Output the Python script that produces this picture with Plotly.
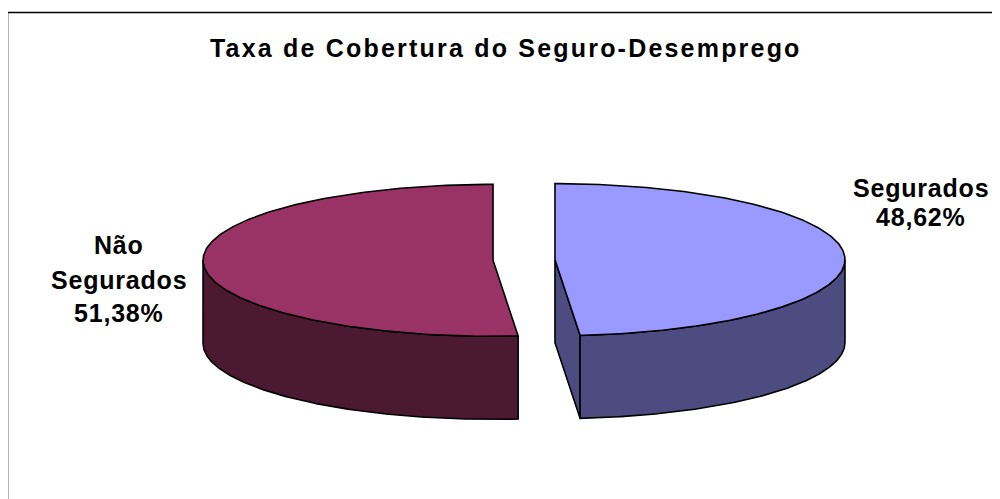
import numpy as np
import plotly.graph_objects as go

# ---- data ----
labels = ["Segurados", "Não Segurados"]
values = [48.62, 51.38]
top_colors = ["#9999FF", "#993366"]
side_colors = ["#4C4C80", "#4C1933"]
title_text = "Taxa de Cobertura do Seguro-Desemprego"

# ---- pie geometry (pixel space via axes) ----
CX, CY, RX, RY, DEPTH, EXPLODE = 524, 260, 290, 76, 83, 31
N = 240
OFF = 8  # page body margin compensation


def rim(cx, cy, th, dz=0.0):
    th = np.asarray(th, dtype=float)
    return cx + RX * np.sin(th), cy - RY * np.cos(th) + dz


def poly(fig, xs, ys, color):
    xs = list(xs) + [xs[0]]
    ys = list(ys) + [ys[0]]
    fig.add_trace(go.Scatter(x=xs, y=ys, mode="lines", fill="toself",
                             fillcolor=color,
                             line=dict(color="black", width=1.6),
                             hoverinfo="skip", showlegend=False))


fig = go.Figure()
total = float(sum(values))
start = 0.0
for lab, v, tc, sc in zip(labels, values, top_colors, side_colors):
    a = start
    b = start + 2 * np.pi * v / total
    start = b
    mid = (a + b) / 2
    cx = CX + EXPLODE * np.sin(mid)
    cy = CY - EXPLODE * np.cos(mid) * RY / RX

    # cut faces
    for th, sign in ((a, -1), (b, 1)):
        if sign * np.sin(th) > 1e-6:
            x1, y1 = rim(cx, cy, th)
            poly(fig, [cx, x1, x1, cx], [cy, y1, y1 + DEPTH, cy + DEPTH], sc)

    # outer wall (front half only)
    lo, hi = max(a, np.pi / 2), min(b, 3 * np.pi / 2)
    if lo < hi:
        t = np.linspace(lo, hi, N)
        xt, yt = rim(cx, cy, t)
        xb, yb = rim(cx, cy, t[::-1], DEPTH)
        poly(fig, np.concatenate([xt, xb]), np.concatenate([yt, yb]), sc)

    # top face
    t = np.linspace(a, b, N)
    xt, yt = rim(cx, cy, t)
    poly(fig, np.concatenate([[cx], xt]), np.concatenate([[cy], yt]), tc)


def spaced(line, ls):
    return f"<span style='letter-spacing:{ls}px'><b>{line}</b></span>"


def fmt(v):
    return f"{v:.2f}".replace(".", ",") + "%"


label_lines = [["Segurados", fmt(values[0])],
               ["Não", "Segurados", fmt(values[1])]]
label_x = [921, 119]
label_y = [[187.5, 217], [245, 279.5, 312.5]]
for lines, lx, ys in zip(label_lines, label_x, label_y):
    for s, ly in zip(lines, ys):
        fig.add_annotation(x=lx, y=ly, xref="x", yref="y", showarrow=False,
                           text=spaced(s, 0.8),
                           font=dict(family="Arial, Liberation Sans", size=25, color="black"),
                           xanchor="center", yanchor="middle")

fig.add_annotation(x=506, y=48, xref="x", yref="y", showarrow=False,
                   text=spaced(title_text, 2.2),
                   font=dict(family="Arial, Liberation Sans", size=25, color="black"),
                   xanchor="center", yanchor="middle")

fig.add_shape(type="rect", xref="x", yref="y", x0=7.5, y0=12.5, x1=1020, y1=530,
              line=dict(color="black", width=1.6), fillcolor="rgba(0,0,0,0)")

fig.update_xaxes(range=[OFF, 1000 + OFF], visible=False, fixedrange=True)
fig.update_yaxes(range=[499 + OFF, OFF], visible=False, fixedrange=True)
fig.update_layout(width=1000, height=499, autosize=False,
                  margin=dict(l=0, r=0, t=0, b=0),
                  paper_bgcolor="white", plot_bgcolor="white")

fig.write_html("out.html")
